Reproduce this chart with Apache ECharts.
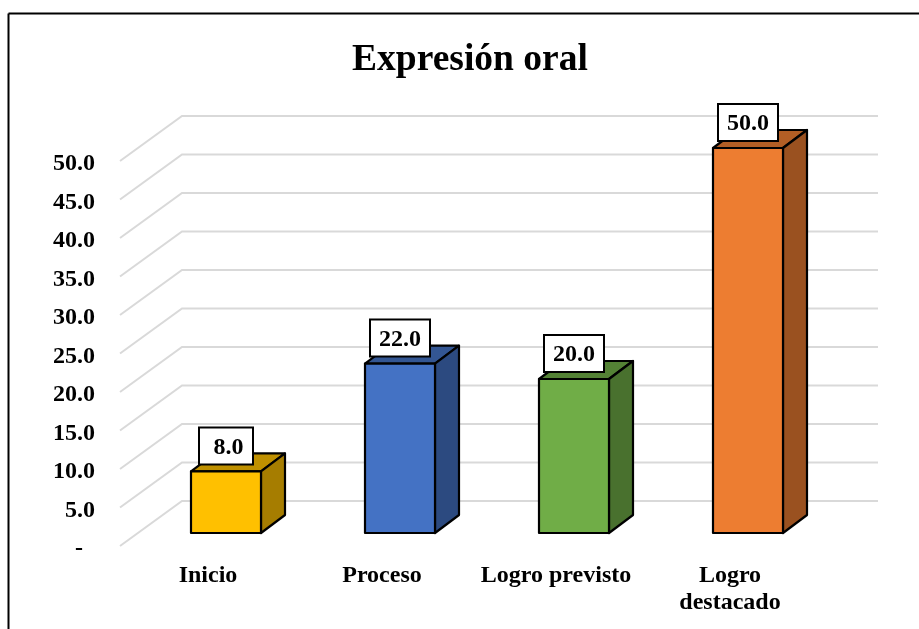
<!DOCTYPE html>
<html>
<head>
<meta charset="utf-8">
<style>html,body{margin:0;padding:0;background:#fff}#c{width:919px;height:629px}</style>
<script src="https://cdn.jsdelivr.net/npm/echarts@6/dist/echarts.min.js"></script>
</head>
<body>
<div id="c"></div>
<script>
const categories = ['Inicio', 'Proceso', 'Logro previsto', 'Logro\ndestacado'];
const values = [8, 22, 20, 50];
const gridValues = [0, 5, 10, 15, 20, 25, 30, 35, 40, 45, 50];
const frontColors = ['#ffc000', '#4472c4', '#70ad47', '#ed7d31'];
const topColors = ['#bf9000', '#335693', '#548235', '#b25e25'];
const sideColors = ['#a67d00', '#2c4a80', '#49712e', '#9a5120'];
const titleText = 'Expresión oral';

const FONT = '"Liberation Serif", "Times New Roman", serif';
const chart = echarts.init(document.getElementById('c'), null, { renderer: 'canvas' });

function renderWall(params, api) {
  const cs = params.coordSys;
  const y = api.coord([0, api.value(1)])[1];
  const dx = 61, dy = -45;
  return {
    type: 'polyline',
    shape: { points: [[cs.x - 1, y], [cs.x + dx, y + dy], [cs.x + cs.width + dx, y + dy]] },
    style: { stroke: '#d9d9d9', lineWidth: 2, fill: null }
  };
}

function renderBar(params, api) {
  const i = params.dataIndex;
  const top = api.coord([i, api.value(1)]);
  const base = api.coord([i, 0]);
  const w = 70, dx = 24, dy = -18, shiftX = 18, shiftY = -13;
  const x0 = top[0] + shiftX - w / 2, x1 = x0 + w;
  const yT = top[1] + shiftY, yB = base[1] + shiftY;
  const line = { stroke: '#000', lineWidth: 2.2, lineJoin: 'round' };
  const label = api.value(1).toFixed(1);
  const pad = label.length > 3 ? [7, 8, 4, 8] : [7, 8.5, 4, 13.5];
  return {
    type: 'group',
    children: [
      { type: 'polygon', shape: { points: [[x0, yT], [x1, yT], [x1 + dx, yT + dy], [x0 + dx, yT + dy]] },
        style: Object.assign({ fill: topColors[i] }, line) },
      { type: 'polygon', shape: { points: [[x1, yT], [x1 + dx, yT + dy], [x1 + dx, yB + dy], [x1, yB]] },
        style: Object.assign({ fill: sideColors[i] }, line) },
      { type: 'rect', shape: { x: x0, y: yT, width: w, height: yB - yT },
        style: Object.assign({ fill: frontColors[i] }, line) },
      { type: 'text', x: x0 + w / 2, y: yT - 43,
        style: { text: label, font: 'bold 24px ' + FONT, fill: '#000', align: 'center', verticalAlign: 'top',
          backgroundColor: '#fff', borderColor: '#000', borderWidth: 2, padding: pad } }
    ]
  };
}

chart.setOption({
  animation: false,
  backgroundColor: '#fff',
  title: {
    text: titleText, left: 465, top: 36, textAlign: 'center',
    textStyle: { fontFamily: FONT, fontWeight: 'bold', fontSize: 37.5, color: '#000' }
  },
  grid: { left: 121, right: 102, top: 161, bottom: 83, containLabel: false },
  xAxis: {
    type: 'category', data: categories,
    axisLine: { show: false }, axisTick: { show: false }, splitLine: { show: false },
    axisLabel: { margin: 16, fontFamily: FONT, fontWeight: 'bold', fontSize: 24, color: '#000', lineHeight: 27, interval: 0 }
  },
  yAxis: {
    type: 'value', min: 0, max: 50, interval: 5,
    axisLine: { show: false }, axisTick: { show: false }, splitLine: { show: false },
    axisLabel: {
      margin: 26, fontFamily: FONT, fontWeight: 'bold', fontSize: 24, color: '#000',
      formatter: v => '{t|' + (v === 0 ? '-  ' : v.toFixed(1)) + '}',
      rich: { t: { fontFamily: FONT, fontWeight: 'bold', fontSize: 24, color: '#000', padding: [6, 0, 0, 0] } }
    }
  },
  graphic: [
    { type: 'line', shape: { x1: 8.5, y1: 13.5, x2: 919, y2: 13.5 }, style: { stroke: '#000', lineWidth: 2 }, silent: true },
    { type: 'line', shape: { x1: 8.5, y1: 13.5, x2: 8.5, y2: 629 }, style: { stroke: '#000', lineWidth: 2 }, silent: true }
  ],
  series: [
    { type: 'custom', renderItem: renderWall, clip: false, silent: true, z: 1,
      data: gridValues.map(v => [0, v]), encode: { x: 0, y: 1 } },
    { type: 'custom', renderItem: renderBar, clip: false, silent: true, z: 2,
      data: values.map((v, i) => [i, v]), encode: { x: 0, y: 1 } }
  ]
});
</script>
</body>
</html>
